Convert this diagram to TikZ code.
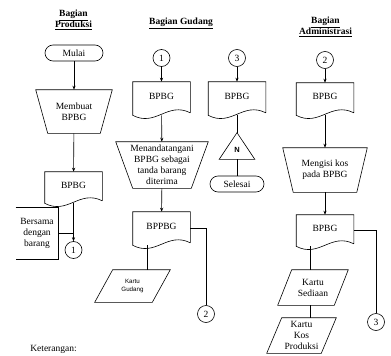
\documentclass[tikz,border=0pt]{standalone}
\usepackage{fontspec}
\setmainfont{Liberation Serif}
\newfontfamily\sansf{Liberation Sans}
\usetikzlibrary{calc,arrows.meta}
\newcommand\docdraw[1]{\draw ($(#1.south east)+(0,2.5)$) -- (#1.north east) -- (#1.north west) -- (#1.south west) .. controls ($(#1.south west)!0.4!(#1.south east)+(0,-12)$) and ($(#1.south west)!0.6!(#1.south east)+(0,14)$) .. ($(#1.south east)+(0,2.5)$);}
\newcommand\trapdraw[2]{\draw (#1.north west) -- (#1.north east) -- ($(#1.south east)+(-#2,0)$) -- ($(#1.south west)+(#2,0)$) -- cycle;}
\newcommand\paradraw[2]{\draw ($(#1.north west)+(#2,0)$) -- (#1.north east) -- ($(#1.south east)+(-#2,0)$) -- (#1.south west) -- cycle;}
\begin{document}
\begin{tikzpicture}[x=1pt,y=1pt, line width=0.6pt,
  every node/.style={font=\fontsize{9.5}{11}\selectfont, inner sep=0pt},
  arr/.style={-{Stealth[length=4pt,width=3.2pt]}},
  term/.style={draw, rounded corners=8pt, minimum height=16pt},
  conn/.style={draw, circle, minimum size=17pt},
  docn/.style={minimum width=57pt, text height=7pt, text depth=6pt},
  boxn/.style={align=center},
  hdr/.style={font=\fontsize{9.5}{11}\selectfont\bfseries, align=center}]
\useasboundingbox (0,0) rectangle (391,-356);

% headers
\node[hdr] (hp) at (73.5,-20) {\underline{Bagian}\\\underline{Produksi}};
\node[hdr] (hg) at (181,-23) {\underline{Bagian Gudang}};
\node[hdr] (ha) at (325.5,-27) {\underline{Bagian}\\\underline{Administrasi}};

% Produksi
\node[term, minimum width=58pt] (mulai) at (74,-53) {Mulai};
\node[boxn, minimum width=76pt, minimum height=43pt] (mb) at (74,-111.5) {Membuat\\BPBG};
\trapdraw{mb}{12}
\node[docn, minimum height=31pt] (pd) at (73.5,-187.5) {BPBG};
\docdraw{pd}
\node[conn] (c1) at (73.5,-250) {1};
\node[boxn, minimum width=42pt, minimum height=51pt] (note) at (37,-233.5) {Bersama\\dengan\\barang};
\draw (note.north west) -- (note.north east) -- (note.south east) -- (note.south west);
\draw[arr] (mulai) -- (mb);
\draw[arr] (mb) -- (pd);
\draw[arr] (pd) -- (c1);
\draw (note.east) -- (note.east -| c1);

% Gudang
\node[conn] (g1) at (161.5,-58) {1};
\node[conn] (g3) at (237,-58) {3};
\node[docn, minimum height=33pt] (ga) at (161.5,-98.5) {BPBG};
\docdraw{ga}
\node[docn, minimum height=33pt] (gb) at (237,-98.5) {BPBG};
\docdraw{gb}
\node[boxn, minimum width=92pt, minimum height=46pt] (mt) at (162,-165) {Menandatangani\\BPBG sebagai\\tanda barang\\diterima};
\trapdraw{mt}{17}
\node[docn, minimum height=33pt] (gp) at (161.5,-228.5) {BPPBG};
\docdraw{gp}
\node[boxn, minimum width=75pt, minimum height=32pt, font=\sansf\fontsize{6.2}{8}\selectfont] (kg) at (132.5,-286) {Kartu\\Gudang};
\paradraw{kg}{18}
\node[conn] (g2) at (206,-314) {2};
\node[minimum width=35pt, minimum height=18pt, font=\sansf\bfseries\fontsize{7.5}{9}\selectfont] (tri) at (237,-150) {N};
\coordinate (tritop) at ($(tri.north)+(0,8)$);
\draw (tritop) -- (tri.south east) -- (tri.south west) -- cycle;
\node[term, minimum width=54pt] (selesai) at (237,-184) {Selesai};
\draw[arr] (g1) -- (ga);
\draw[arr] (g3) -- (gb);
\draw[arr] (ga) -- (mt);
\draw[arr] (mt) -- (gp);
\draw ([xshift=-14.5pt]gp.south) -- ([xshift=-14.5pt]gp.south |- kg.north);
\draw (gp.east) -| (g2);
\draw (gb) -- (tritop);
\draw (tri) -- (selesai);

% Administrasi
\node[conn] (a2) at (325,-60) {2};
\node[docn, minimum height=32pt] (ac) at (325,-99) {BPBG};
\docdraw{ac}
\node[boxn, minimum width=84pt, minimum height=44pt] (mk) at (325,-170) {Mengisi kos\\pada BPBG};
\trapdraw{mk}{10.5}
\node[docn, minimum height=31pt] (ad) at (325,-230.5) {BPBG};
\docdraw{ad}
\node[boxn, minimum width=70pt, minimum height=35pt] (ks) at (313,-287.5) {Kartu\\Sediaan};
\paradraw{ks}{14}
\node[boxn, minimum width=69pt, minimum height=35pt] (kk) at (301.5,-335.5) {Kartu\\Kos\\Produksi};
\paradraw{kk}{15}
\node[conn] (a3) at (376,-322) {3};
\draw[arr] (a2) -- (ac);
\draw[arr] (ac) -- (mk);
\draw[arr] (mk) -- (ad);
\draw ([xshift=-15pt]ad.south) -- ([xshift=-15pt]ad.south |- ks.north);
\draw ([xshift=-3pt]ks.south) -- ([xshift=-3pt]ks.south |- kk.north);
\draw (ad.east) -| (a3);

\node[anchor=west] (ket) at (30,-349) {Keterangan:};
\end{tikzpicture}
\end{document}
